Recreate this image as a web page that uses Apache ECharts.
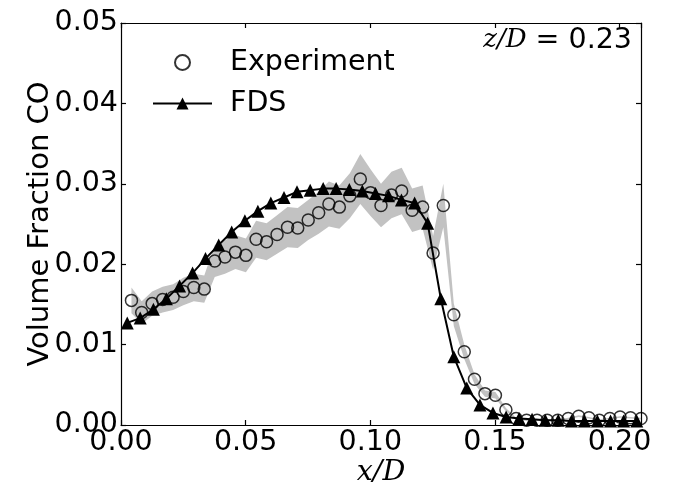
<!DOCTYPE html>
<html><head><meta charset="utf-8">
<script src="https://cdn.jsdelivr.net/npm/echarts@6/dist/echarts.min.js"></script>
<style>html,body{margin:0;padding:0;background:#fff}#c{width:681px;height:485px}</style>
</head><body><div id="c"></div>
<script>
// Experiment data (x/D, volume fraction CO) and uncertainty half-width
const expX = [0.0042,0.0083,0.0125,0.0167,0.0209,0.0250,0.0292,0.0334,0.0376,0.0417,
  0.0459,0.0501,0.0542,0.0584,0.0626,0.0668,0.0709,0.0751,0.0793,0.0834,
  0.0876,0.0918,0.0960,0.1001,0.1043,0.1085,0.1126,0.1168,0.1210,0.1252,
  0.1293,0.1335,0.1377,0.1418,0.1460,0.1502,0.1544,0.1585,0.1627,0.1669,
  0.1710,0.1752,0.1794,0.1836,0.1877,0.1919,0.1961,0.2002,0.2044,0.2086];
const expY = [0.0155,0.0140,0.0151,0.0156,0.0159,0.0166,0.0171,0.0169,0.0204,0.0209,
  0.0215,0.0211,0.0231,0.0228,0.0237,0.0246,0.0245,0.0255,0.0264,0.0275,
  0.0271,0.0285,0.0306,0.0289,0.0273,0.0286,0.0291,0.0267,0.0271,0.0214,
  0.0273,0.0137,0.0091,0.0057,0.0039,0.0037,0.0019,0.0008,0.0006,0.0006,
  0.0006,0.0006,0.0008,0.0011,0.0009,0.0006,0.0008,0.0010,0.0009,0.0008];
const expErr = [0.0016,0.0014,0.0015,0.0016,0.0016,0.0017,0.0017,0.0017,0.0020,0.0021,
  0.0021,0.0021,0.0023,0.0023,0.0024,0.0025,0.0025,0.0025,0.0026,0.0028,
  0.0027,0.0028,0.0031,0.0029,0.0027,0.0029,0.0029,0.0027,0.0027,0.0021,
  0.0027,0.0014,0.0009,0.0006,0.0004,0.0004,0.0002,0.0001,0.0001,0.0001,
  0.0001,0.0001,0.0001,0.0001,0.0001,0.0001,0.0001,0.0001,0.0001,0.0001];
// FDS model data
const fdsX = [0.0025,0.0077,0.0130,0.0182,0.0235,0.0287,0.0339,0.0392,0.0444,0.0497,
  0.0549,0.0601,0.0654,0.0706,0.0759,0.0811,0.0863,0.0916,0.0968,0.1021,
  0.1073,0.1125,0.1178,0.1230,0.1283,0.1335,0.1387,0.1440,0.1492,0.1545,
  0.1597,0.1649,0.1702,0.1754,0.1807,0.1859,0.1911,0.1964,0.2016,0.2069];
const fdsY = [0.0127,0.0133,0.0144,0.0157,0.0173,0.0189,0.0207,0.0224,0.0240,0.0254,
  0.0266,0.0276,0.0283,0.0290,0.0292,0.0294,0.0294,0.0293,0.0291,0.0288,
  0.0285,0.0280,0.0276,0.0251,0.0157,0.0085,0.0046,0.0025,0.0015,0.0010,
  0.0008,0.0007,0.0006,0.0006,0.0005,0.0005,0.0005,0.0005,0.0005,0.0005];
const xTicks = [0.00, 0.05, 0.10, 0.15, 0.20];
const yTicks = [0.00, 0.01, 0.02, 0.03, 0.04, 0.05];
const X_MAX = 0.2086;
const annotation = 'z/D';
const annotationValue = ' = 0.23';

const FONT = 'DejaVu Sans';
const FS = 28.5;
const chart = echarts.init(document.getElementById('c'), null, {renderer: 'canvas'});
const bandData = expX.map((x, i) => [x, expY[i] - expErr[i], expY[i] + expErr[i]]);
const expData = expX.map((x, i) => [x, expY[i]]);
const fdsData = fdsX.map((x, i) => [x, fdsY[i]]);

const tickStyle = {inside: true, length: 5, lineStyle: {color: '#000', width: 1.2}};
const lineStyle = {color: '#000', width: 1.2};
const labelBase = {fontFamily: FONT, fontSize: FS, color: '#000'};

function xAx(pos, show) {
  return {
    type: 'value', min: xTicks[0], max: X_MAX, interval: 0.05, position: pos,
    axisLine: {show: true, onZero: false, lineStyle},
    axisTick: tickStyle,
    axisLabel: show ? Object.assign({}, labelBase, {margin: 3, showMaxLabel: false,
      formatter: v => xTicks.some(t => Math.abs(t - v) < 1e-9) ? v.toFixed(2) : ''}) : {show: false},
    splitLine: {show: false},
    name: show ? 'x/D' : '', nameLocation: 'middle', nameGap: 33, nameMoveOverlap: false,
    nameTextStyle: {fontFamily: 'DejaVu Serif', fontStyle: 'italic', fontSize: FS, color: '#000'}
  };
}
function yAx(pos, show) {
  return {
    type: 'value', min: yTicks[0], max: yTicks[yTicks.length - 1], interval: 0.01, position: pos,
    axisLine: {show: true, onZero: false, lineStyle},
    axisTick: tickStyle,
    axisLabel: show ? Object.assign({}, labelBase, {margin: 3, formatter: v => v.toFixed(2)}) : {show: false},
    splitLine: {show: false},
    name: show ? 'Volume Fraction CO' : '', nameLocation: 'middle', nameGap: 66, nameMoveOverlap: false,
    nameTextStyle: {fontFamily: FONT, fontSize: 29, color: '#000'}
  };
}

chart.setOption({
  animation: false,
  backgroundColor: '#fff',
  grid: {left: 121, top: 23, width: 520, height: 402, containLabel: false, outerBoundsMode: 'none'},
  xAxis: [xAx('bottom', true), xAx('top', false)],
  yAxis: [yAx('left', true), yAx('right', false)],
  legend: {
    orient: 'vertical', left: 147, top: 42, itemGap: 10, itemWidth: 59, itemHeight: 15,
    data: ['Experiment', 'FDS'],
    textStyle: {fontFamily: FONT, fontSize: FS, color: '#000', lineHeight: 31, padding: [0, 0, 0, 13]}
  },
  graphic: [{
    type: 'text', right: 49, top: 26,
    style: {
      text: '{i|' + annotation + '}{n|' + annotationValue + '}',
      rich: {
        i: {fontFamily: 'DejaVu Serif', fontStyle: 'italic', fontSize: 26, fill: '#000'},
        n: {fontFamily: FONT, fontSize: FS, fill: '#000'}
      }
    }
  }],
  series: [
    {name: 'band', type: 'custom', data: bandData, encode: {x: 0, y: [1, 2]}, silent: true, z: 1,
      clip: true,
      renderItem: function (params, api) {
        if (params.dataIndex !== 0) return null;
        const upper = [], lower = [];
        for (let i = 0; i < bandData.length; i++) {
          upper.push(api.coord([bandData[i][0], bandData[i][2]]));
          lower.push(api.coord([bandData[i][0], bandData[i][1]]));
        }
        return {type: 'polygon', shape: {points: upper.concat(lower.reverse())},
          style: {fill: '#c2c2c2', stroke: 'none'}};
      }},
    {name: 'Experiment', type: 'scatter', data: expData, symbol: 'circle', symbolSize: 12,
      itemStyle: {color: 'rgba(0,0,0,0)', borderColor: '#000', borderWidth: 1.5}, z: 3},
    {name: 'FDS', type: 'line', data: fdsData, symbol: 'triangle', symbolSize: 13, showAllSymbol: true,
      lineStyle: {color: '#000', width: 2}, itemStyle: {color: '#000'}, z: 4}
  ]
});
</script></body></html>
